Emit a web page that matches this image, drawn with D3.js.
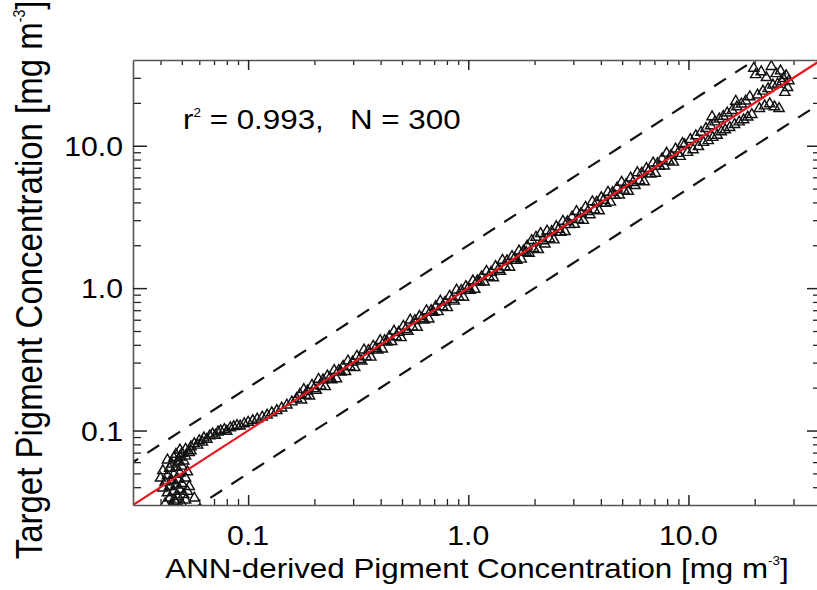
<!DOCTYPE html>
<html>
<head>
<meta charset="utf-8">
<script src="https://cdn.jsdelivr.net/npm/d3@7"></script>
<style>
body { margin: 0; background: #fff; }
text { font-family: "Liberation Sans", Arial, Helvetica, sans-serif; fill: #000; }
</style>
</head>
<body>
<div id="chart"></div>
<script>
// axis setup (both axes log, same range)
var axisDomain = [0.03, 40];
var majorTicks = [0.1, 1, 10];
var majorLabels = ["0.1", "1.0", "10.0"];
var minorTicks = [0.04, 0.05, 0.06, 0.07, 0.08, 0.09,
                  0.2, 0.3, 0.4, 0.5, 0.6, 0.7, 0.8, 0.9,
                  2, 3, 4, 5, 6, 7, 8, 9, 20, 30];

// reference lines: target = factor * ann
var lineFactors = [2, 0.5];
var fitFactor = 1;

// [ANN-derived, target] pairs
var lowCluster = [
    [0.042,0.031],[0.045,0.030],[0.047,0.032],[0.050,0.031],[0.052,0.033],[0.044,0.034],[0.048,0.035],[0.051,0.036],[0.043,0.037],[0.046,0.038],
    [0.049,0.039],[0.053,0.038],[0.041,0.040],[0.044,0.041],[0.047,0.042],[0.050,0.043],[0.054,0.041],[0.042,0.044],[0.045,0.045],[0.048,0.046],
    [0.052,0.047],[0.040,0.047],[0.043,0.049],[0.046,0.050],[0.049,0.051],[0.053,0.052],[0.041,0.053],[0.044,0.055],[0.047,0.056],[0.050,0.057],
    [0.045,0.059],[0.048,0.061],[0.051,0.062],[0.043,0.063],[0.046,0.065],[0.049,0.066],[0.052,0.067],[0.047,0.069],[0.050,0.070],[0.054,0.071],
    [0.049,0.074],[0.052,0.075],[0.055,0.073],[0.057,0.034],[0.046,0.033]
];
var lowArc = [
    [0.055,0.078],[0.057,0.082],[0.059,0.080],[0.060,0.086],[0.062,0.084],[0.063,0.090],[0.065,0.088],[0.067,0.093],[0.069,0.096],[0.071,0.094],
    [0.073,0.099],[0.075,0.101],[0.078,0.103],[0.080,0.100],[0.083,0.106],[0.086,0.108],[0.089,0.110],[0.092,0.109],[0.096,0.113],[0.100,0.116],
    [0.105,0.119],[0.110,0.122],[0.116,0.126],[0.122,0.130],[0.128,0.135],[0.135,0.140],[0.142,0.146],[0.150,0.153],[0.158,0.161],[0.166,0.170]
];
var midRange = [
    [0.172,0.182],[0.175,0.166],[0.179,0.197],[0.183,0.179],[0.186,0.192],[0.190,0.177],[0.195,0.211],[0.199,0.199],[0.204,0.194],[0.209,0.232],
    [0.214,0.208],[0.219,0.230],[0.224,0.206],[0.229,0.245],[0.235,0.237],[0.240,0.230],[0.246,0.268],[0.252,0.234],[0.258,0.268],[0.264,0.261],
    [0.270,0.286],[0.277,0.263],[0.284,0.312],[0.290,0.284],[0.298,0.307],[0.305,0.281],[0.312,0.337],[0.320,0.320],[0.328,0.312],[0.336,0.373],
    [0.344,0.334],[0.352,0.370],[0.361,0.332],[0.370,0.396],[0.379,0.383],[0.388,0.372],[0.398,0.434],[0.407,0.379],[0.417,0.434],[0.428,0.424],
    [0.438,0.464],[0.449,0.427],[0.460,0.506],[0.471,0.462],[0.483,0.497],[0.495,0.455],[0.507,0.548],[0.519,0.519],[0.532,0.505],[0.545,0.605],
    [0.558,0.541],[0.572,0.601],[0.586,0.539],[0.600,0.642],[0.615,0.621],[0.630,0.605],[0.646,0.704],[0.662,0.616],[0.678,0.705],[0.694,0.687],
    [0.711,0.754],[0.729,0.693],[0.747,0.822],[0.765,0.750],[0.784,0.808],[0.803,0.739],[0.823,0.889],[0.843,0.843],[0.864,0.821],[0.885,0.982],
    [0.906,0.879],[0.929,0.975],[0.951,0.875],[0.975,1.04],[0.999,1.01],[1.02,0.979],[1.05,1.14],[1.07,0.995],[1.10,1.14],[1.13,1.12],
    [1.15,1.22],[1.18,1.12],[1.21,1.33],[1.24,1.22],[1.27,1.31],[1.30,1.20],[1.33,1.44],[1.37,1.37],[1.40,1.33],[1.43,1.59],
    [1.47,1.43],[1.50,1.58],[1.54,1.42],[1.58,1.69],[1.62,1.64],[1.66,1.59],[1.70,1.85],[1.74,1.62],[1.78,1.85],[1.83,1.81]
];
var upperRange = [
    [1.85,2.00],[1.89,1.78],[1.94,2.19],[1.98,1.92],[2.03,2.31],[2.08,1.89],[2.13,2.45],[2.18,2.18],[2.23,2.07],[2.28,2.55],
    [2.34,2.25],[2.39,2.53],[2.45,2.21],[2.51,2.74],[2.57,2.62],[2.63,2.50],[2.69,2.99],[2.75,2.53],[2.82,2.96],[2.89,2.83],
    [2.96,3.20],[3.03,2.85],[3.10,3.50],[3.17,3.07],[3.25,3.38],[3.33,3.03],[3.41,3.75],[3.49,3.49],[3.57,3.32],[3.66,4.10],
    [3.74,3.59],[3.83,4.06],[3.93,3.54],[4.02,4.38],[4.12,4.20],[4.21,4.00],[4.31,4.78],[4.42,4.07],[4.52,4.75],[4.63,4.54],
    [4.74,5.12],[4.85,4.56],[4.97,5.62],[5.09,4.94],[5.21,5.42],[5.33,4.85],[5.46,6.01],[5.59,5.59],[5.72,5.32],[5.86,6.56],
    [6.00,5.76],[6.14,6.51],[6.29,5.66],[6.44,7.02],[6.59,6.72],[6.75,6.41],[6.91,7.67],[7.07,6.50],[7.24,7.60],[7.41,7.26],
    [7.59,8.20],[7.77,7.30],[7.96,8.99],[8.15,7.91],[8.34,8.67],[8.54,7.77],[8.74,9.61],[8.95,8.95],[9.17,8.53],[9.39,10.5]
];
var highRange = [
    [9.6,10.3],[9.9,9.1],[10.2,11.2],[10.5,9.5],[10.8,11.9],[11.1,10.0],[11.4,12.6],[11.7,10.7],[12.0,13.4],[12.3,11.0],
    [12.6,14.0],[12.9,11.6],[13.2,14.9],[13.5,12.0],[13.8,15.6],[14.1,12.7],[14.4,16.3],[14.7,13.1],[15.0,17.2],[15.4,13.6],
    [15.8,17.9],[16.2,14.3],[16.6,19.0],[17.0,14.9],[17.4,19.9],[17.8,15.4],[18.2,20.9],[18.6,16.1],[19.0,22.4],[19.4,16.8],
    [19.8,35.5],[20.2,32.0],[20.6,23.0],[21.0,18.5],[21.4,33.5],[21.8,24.5],[22.2,19.3],[22.6,30.5],[23.0,25.5],[23.4,20.0],
    [23.8,36.5],[24.2,27.0],[24.6,19.0],[25.0,32.5],[25.4,27.5],[25.8,18.5],[26.2,34.0],[26.6,28.5],[27.0,30.0],[27.4,24.0],
    [27.8,31.5],[28.2,26.0],[28.6,29.0],[12.8,16.2],[16.4,20.8]
];

var statsLabel = { r2: "0.993", n: "300" };
var xTitle = "ANN-derived Pigment Concentration [mg m";
var yTitle = "Target Pigment Concentration [mg m";
var unitSup = "-3";

var w = 817, h = 590;
var plotLeft = 133, plotRight = 821, plotTop = 60, plotBottom = 505;
var stretch = 1.12;   // the original figure is a bit wider than tall

var points = lowCluster.concat(lowArc, midRange, upperRange, highRange);

var svg = d3.select("#chart").append("svg")
    .attr("width", w)
    .attr("height", h);

var x = d3.scaleLog().domain(axisDomain).range([plotLeft, plotRight]);
var y = d3.scaleLog().domain(axisDomain).range([plotBottom, plotTop]);

svg.append("clipPath").attr("id", "plot-clip")
    .append("rect")
    .attr("x", plotLeft).attr("y", plotTop)
    .attr("width", plotRight - plotLeft)
    .attr("height", plotBottom - plotTop);

var plot = svg.append("g").attr("clip-path", "url(#plot-clip)");

// dashed factor-of-2 lines
var line = d3.line()
    .x(function(d) { return x(d[0]); })
    .y(function(d) { return y(d[1]); });

function ratioLine(k) {
    return [axisDomain[0] / 4, axisDomain[1] * 4].map(function(v) { return [v, v * k]; });
}

plot.selectAll(".dash-line")
    .data(lineFactors)
    .enter()
    .append("path")
    .attr("class", "dash-line")
    .attr("d", function(k) { return line(ratioLine(k)); })
    .attr("fill", "none")
    .attr("stroke", "#111")
    .attr("stroke-width", 2.2)
    .attr("stroke-dasharray", "14,11");

// triangles
var tri = "M0,-5L5.1,3.8L-5.1,3.8Z";
plot.selectAll(".point")
    .data(points)
    .enter()
    .append("path")
    .attr("class", "point")
    .attr("d", tri)
    .attr("transform", function(d) {
        return "translate(" + x(d[0]) + "," + y(d[1]) + ")";
    })
    .attr("fill", "none")
    .attr("stroke", "#111")
    .attr("stroke-width", 1.45);

// 1:1 line
plot.append("path")
    .attr("d", line(ratioLine(fitFactor)))
    .attr("fill", "none")
    .attr("stroke", "#e8161e")
    .attr("stroke-width", 2.2);

// axes with inward ticks
function drawAxis(axisFn, scale, transform, majorLen, minorLen) {
    var g = svg.append("g").attr("transform", transform);
    g.call(axisFn(scale).tickValues(minorTicks).tickSizeInner(-minorLen).tickSizeOuter(0).tickFormat(""));
    g.select(".domain").remove();
    var g2 = svg.append("g").attr("transform", transform);
    g2.call(axisFn(scale).tickValues(majorTicks).tickSizeInner(-majorLen).tickSizeOuter(0).tickFormat(""));
    g.selectAll(".tick line").attr("stroke", "#222").attr("stroke-width", 1.3);
    g2.selectAll(".tick line").attr("stroke", "#222").attr("stroke-width", 1.5);
    g2.select(".domain").attr("stroke", "#555").attr("stroke-width", 1.6);
}

drawAxis(d3.axisBottom, x, "translate(0," + plotBottom + ")", 10, 6);
drawAxis(d3.axisTop, x, "translate(0," + plotTop + ")", 10, 5);
drawAxis(d3.axisLeft, y, "translate(" + plotLeft + ",0)", 14, 8);
drawAxis(d3.axisRight, y, "translate(" + plotRight + ",0)", 14, 8);

function label(tx, ty, anchor, size, rotate) {
    var t = "translate(" + tx + "," + ty + ") scale(" + stretch + ",1)";
    if (rotate) t += " rotate(" + rotate + ")";
    return svg.append("text")
        .attr("transform", t)
        .attr("text-anchor", anchor)
        .attr("font-size", size);
}

// tick labels
majorTicks.forEach(function(v, i) {
    label(x(v), 545, "middle", 27).text(majorLabels[i]);
    label(123, y(v) + 10, "end", 27).text(majorLabels[i]);
});

// axis titles
var xt = label((plotLeft + plotRight) / 2, 578, "middle", 28);
xt.append("tspan").text(xTitle);
xt.append("tspan").attr("font-size", 12).attr("dy", -13).text(unitSup);
xt.append("tspan").attr("dy", 13).text("]");

var yt = label(42, 280, "middle", 33, -90);
yt.append("tspan").text(yTitle);
yt.append("tspan").attr("font-size", 14).attr("dy", -15).text(unitSup);
yt.append("tspan").attr("dy", 15).text("]");

// stats annotation
var st = label(183, 129, "start", 28).style("white-space", "pre");
st.append("tspan").text("r");
st.append("tspan").attr("font-size", 12).attr("dy", -12).text("2");
st.append("tspan").attr("dy", 12).text(" = " + statsLabel.r2 + ",   N = " + statsLabel.n);
</script>
</body>
</html>
